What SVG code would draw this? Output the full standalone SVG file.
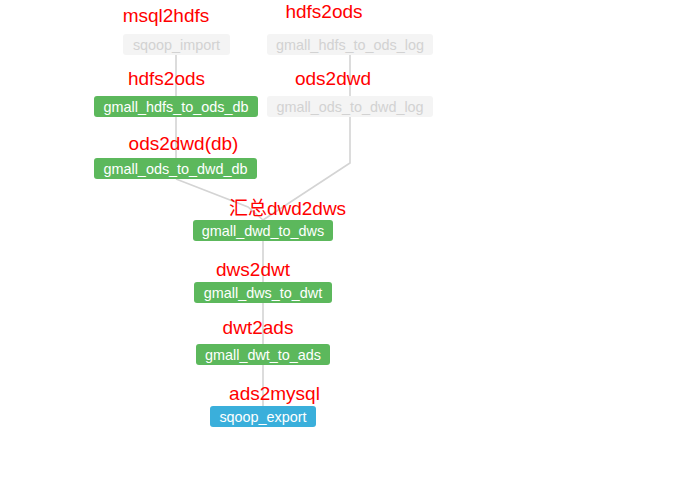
<svg xmlns="http://www.w3.org/2000/svg" width="674" height="488" viewBox="0 0 674 488">
<style>
.lbl{font-family:"Liberation Sans","Noto Sans CJK SC",sans-serif;font-size:19px;fill:#ff0000;text-anchor:middle}
.nt{font-family:"Liberation Sans",sans-serif;font-size:14.4px;text-anchor:middle;fill:#ffffff}
.g rect{fill:#5cb85c}
.b rect{fill:#3aafdb}
.f rect{fill:#f4f4f4}
.f text{fill:#d2d2d2}
.e{fill:none;stroke:#d4d4d4;stroke-width:1.6}
</style>
<rect width="674" height="488" fill="#ffffff"/>
<g id="edges">
<path class="e" d="M176,55 V158"/>
<path class="e" d="M350,55 V96"/>
<path class="e" d="M350,117 V163 L263,220"/>
<path class="e" d="M176,179 L248,207 L263,220"/>
<path class="e" d="M263,241 V282"/>
<path class="e" d="M263,303 V344"/>
<path class="e" d="M263,365 V406"/>
</g>
<g id="sqoop_import" class="f"><rect x="123" y="34" width="107" height="21" rx="3"/><text class="nt" x="176.5" y="50">sqoop_import</text></g>
<g id="gmall_hdfs_to_ods_log" class="f"><rect x="267" y="34" width="166" height="21" rx="3"/><text class="nt" x="350" y="50">gmall_hdfs_to_ods_log</text></g>
<g id="gmall_hdfs_to_ods_db" class="g"><rect x="94" y="96" width="164" height="21" rx="3"/><text class="nt" x="176" y="112">gmall_hdfs_to_ods_db</text></g>
<g id="gmall_ods_to_dwd_log" class="f"><rect x="267" y="96" width="166" height="21" rx="3"/><text class="nt" x="350" y="112">gmall_ods_to_dwd_log</text></g>
<g id="gmall_ods_to_dwd_db" class="g"><rect x="94" y="158" width="163" height="21" rx="3"/><text class="nt" x="175.5" y="174">gmall_ods_to_dwd_db</text></g>
<g id="gmall_dwd_to_dws" class="g"><rect x="193" y="220" width="140" height="21" rx="3"/><text class="nt" x="263" y="236">gmall_dwd_to_dws</text></g>
<g id="gmall_dws_to_dwt" class="g"><rect x="194" y="282" width="138" height="21" rx="3"/><text class="nt" x="263" y="298">gmall_dws_to_dwt</text></g>
<g id="gmall_dwt_to_ads" class="g"><rect x="196" y="344" width="134" height="21" rx="3"/><text class="nt" x="263" y="360">gmall_dwt_to_ads</text></g>
<g id="sqoop_export" class="b"><rect x="210" y="406" width="106" height="21" rx="3"/><text class="nt" x="263" y="422">sqoop_export</text></g>
<g id="labels">
<text class="lbl" x="166" y="22">msql2hdfs</text>
<text class="lbl" x="324" y="18">hdfs2ods</text>
<text class="lbl" x="166.5" y="85">hdfs2ods</text>
<text class="lbl" x="333" y="85">ods2dwd</text>
<text class="lbl" x="183.5" y="150">ods2dwd(db)</text>
<text class="lbl" x="287.5" y="215">汇总dwd2dws</text>
<text class="lbl" x="253" y="276">dws2dwt</text>
<text class="lbl" x="258" y="334">dwt2ads</text>
<text class="lbl" x="274.5" y="400">ads2mysql</text>
</g>
</svg>
